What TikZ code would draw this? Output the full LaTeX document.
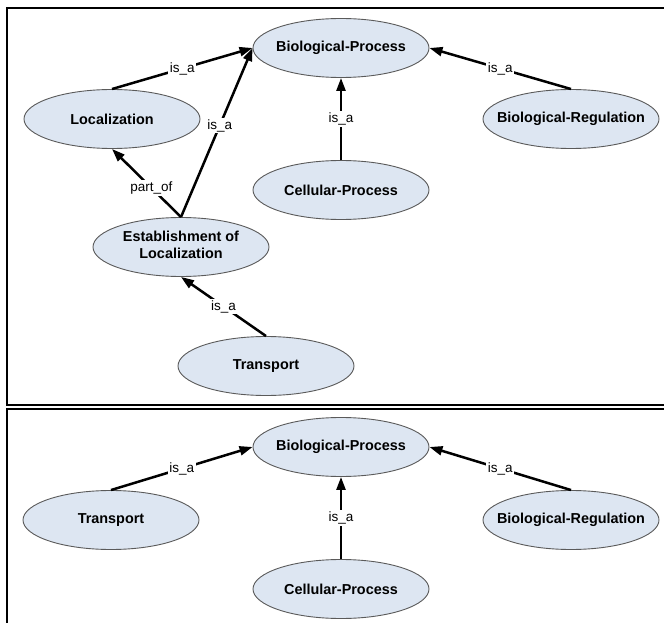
\documentclass[tikz,border=0pt]{standalone}
\usepackage{fontspec}
\setmainfont{Liberation Sans}
\usetikzlibrary{arrows.meta,shapes.geometric}
\definecolor{termfill}{RGB}{221,230,242}
\definecolor{termline}{RGB}{90,90,90}
\newcommand{\termtext}[1]{\makebox[0pt][c]{#1}}
\tikzset{
  term/.style={ellipse, draw=termline, line width=0.9pt, fill=termfill,
    minimum width=176pt, minimum height=59pt, inner sep=0pt,
    font=\fontsize{14.4}{17}\selectfont\bfseries},
  rel/.style={line width=2.5pt, -{Triangle[length=13pt,width=9pt]}},
  rellabel/.style={fill=white, inner sep=1.5pt,
    font=\fontsize{13.5}{15}\selectfont},
  frame/.style={line width=2pt, line cap=rect}
}
\begin{document}
\begin{tikzpicture}[x=1pt,y=-1pt]
\useasboundingbox (0,0) rectangle (664,623);

% panel frames (open towards the right and bottom edges)
\coordinate (f1a) at (6.8,405);
\coordinate (f1b) at (6.8,8.3);
\coordinate (f1c) at (668,8.3);
\coordinate (f1d) at (668,405);
\draw[frame] (f1c) -- (f1b) -- (f1a) -- (f1d);
\coordinate (f2a) at (6.8,630);
\coordinate (f2b) at (6.8,409);
\coordinate (f2c) at (668,409);
\draw[frame] (f2a) -- (f2b) -- (f2c);

% upper panel terms
\node[term] (bpA)   at (341,48)  {\termtext{Biological-Process}};
\node[term] (loc)   at (112,119) {\termtext{Localization}};
\node[term] (bregA) at (571,119) {\termtext{Biological-Regulation}};
\node[term] (cellA) at (341,190) {\termtext{Cellular-Process}};
\node[term] (est)   at (181,247) {\termtext{\begin{tabular}{@{}c@{}}Establishment of\\Localization\end{tabular}}};
\node[term] (trA)   at (266,366) {\termtext{Transport}};

% upper panel relations
\draw[rel] (loc.north) -- node[rellabel, pos=0.5] {is\_a} (bpA.west);
\draw[rel] (est.north) -- node[rellabel, pos=0.54] {is\_a} (bpA.west);
\draw[rel] (cellA.north) -- node[rellabel] {is\_a} (bpA.south);
\draw[rel] (bregA.north) -- node[rellabel] {is\_a} (bpA.east);
\draw[rel] (est.north) -- node[rellabel, pos=0.43] {part\_of} (loc.south);
\draw[rel] (trA.north) -- node[rellabel] {is\_a} (est.south);

% lower panel terms
\node[term] (bpB)   at (341,447) {\termtext{Biological-Process}};
\node[term] (trB)   at (111,520) {\termtext{Transport}};
\node[term] (bregB) at (571,520) {\termtext{Biological-Regulation}};
\node[term] (cellB) at (341,589) {\termtext{Cellular-Process}};

% lower panel relations
\draw[rel] (trB.north) -- node[rellabel] {is\_a} (bpB.west);
\draw[rel] (cellB.north) -- node[rellabel] {is\_a} (bpB.south);
\draw[rel] (bregB.north) -- node[rellabel] {is\_a} (bpB.east);
\end{tikzpicture}
\end{document}
